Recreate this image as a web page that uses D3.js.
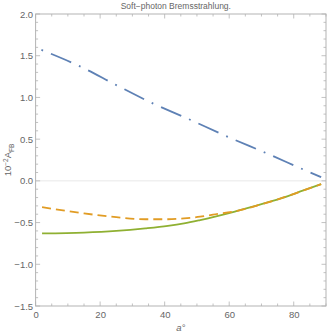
<!DOCTYPE html>
<html>
<head>
<meta charset="utf-8">
<script src="https://cdn.jsdelivr.net/npm/d3@7"></script>
<style>
  body { margin: 0; background: #fff; }
  text { font-family: "Liberation Sans", Arial, sans-serif; fill: #666; }
</style>
</head>
<body>
<svg id="chart" width="328" height="334"></svg>
<script>
// values
const blueAngles = [1.8, 13.6, 25, 36.6, 46, 59.8, 71.8, 83.7, 88.5];
const blueValues = [1.57, 1.375, 1.148, 0.923, 0.765, 0.524, 0.327, 0.124, 0.044];

const curveAngles = [2, 15, 25, 34, 41, 46, 51, 55, 62.5, 70, 76, 83, 88.5];
const orangeValues = [-0.315, -0.39, -0.435, -0.46, -0.46, -0.45, -0.43, -0.405, -0.36, -0.28, -0.21, -0.115, -0.04];
const greenValues = [-0.63, -0.62, -0.60, -0.57, -0.54, -0.51, -0.47, -0.435, -0.36, -0.28, -0.21, -0.115, -0.04];

const xTickValues = [0, 20, 40, 60, 80];
const yTickValues = [-1.5, -1.0, -0.5, 0.0, 0.5, 1.0, 1.5, 2.0];

const margin = { top: 14, right: 2, bottom: 28, left: 35.6 },
      width = 328 - margin.left - margin.right,
      height = 334 - margin.top - margin.bottom;

const svg = d3.select("#chart");
const chart = svg.append("g")
  .attr("transform", "translate(" + margin.left + "," + margin.top + ")");

const x = d3.scaleLinear().domain([0, 90]).range([0, width]);
const y = d3.scaleLinear().domain([-1.5, 2.0]).range([height, 0]);

const fmt = d => (d < 0 ? "\u2212" : "") + Math.abs(d).toFixed(1);

// zero line
chart.append("line")
  .attr("x1", 0).attr("x2", width)
  .attr("y1", y(0)).attr("y2", y(0))
  .attr("stroke", "#e8e8e8").attr("stroke-width", 1);

// frame ticks, pointing inward
const minorX = d3.range(0, 91, 5);
const minorY = d3.range(-15, 21, 1).map(d => d / 10);
const frameColor = "#b3b3b3";

const ticks = chart.append("g").attr("stroke", frameColor).attr("stroke-width", 0.8);
minorX.forEach(v => {
  const len = v % 20 === 0 ? 4.5 : 2.5;
  ticks.append("line").attr("x1", x(v)).attr("x2", x(v)).attr("y1", height).attr("y2", height - len);
  ticks.append("line").attr("x1", x(v)).attr("x2", x(v)).attr("y1", 0).attr("y2", len);
});
minorY.forEach(v => {
  const major = Math.abs(Math.round(v * 10) % 5) === 0;
  const len = major ? 4.5 : 2.5;
  ticks.append("line").attr("x1", 0).attr("x2", len).attr("y1", y(v)).attr("y2", y(v));
  ticks.append("line").attr("x1", width).attr("x2", width - len).attr("y1", y(v)).attr("y2", y(v));
});

chart.append("rect")
  .attr("width", width).attr("height", height)
  .attr("fill", "none").attr("stroke", frameColor).attr("stroke-width", 1);

// tick labels via axes
const xAxis = d3.axisBottom(x).tickValues(xTickValues).tickSize(0).tickPadding(5).tickFormat(d => d);
const yAxis = d3.axisLeft(y).tickValues(yTickValues).tickSize(0).tickPadding(2.5).tickFormat(fmt);

chart.append("g").attr("transform", "translate(0," + height + ")").call(xAxis)
  .call(g => g.select(".domain").remove())
  .selectAll("text").attr("font-size", 9.5).attr("fill", "#666").attr("font-family", "Liberation Sans, Arial, sans-serif");
chart.append("g").call(yAxis)
  .call(g => g.select(".domain").remove())
  .selectAll("text").attr("font-size", 9.5).attr("fill", "#666").attr("font-family", "Liberation Sans, Arial, sans-serif");

// curves
const line = d3.line().x(d => x(d[0])).y(d => y(d[1])).curve(d3.curveMonotoneX);

chart.append("path")
  .datum(d3.zip(curveAngles, greenValues))
  .attr("d", line).attr("fill", "none")
  .attr("stroke", "#8fb032").attr("stroke-width", 1.8);

chart.append("path")
  .datum(d3.zip(curveAngles, orangeValues))
  .attr("d", line).attr("fill", "none")
  .attr("stroke", "#e19c24").attr("stroke-width", 1.8)
  .attr("stroke-dasharray", "9,5");

chart.append("path")
  .datum(d3.zip(blueAngles, blueValues))
  .attr("d", line).attr("fill", "none")
  .attr("stroke", "#5e81b5").attr("stroke-width", 1.8)
  .attr("stroke-dasharray", "1.8,8.5,22,8.5");

// titles
svg.append("text")
  .attr("x", margin.left + width / 2 - 5).attr("y", 9)
  .attr("text-anchor", "middle").attr("font-size", 8.5)
  .text("Soft\u2212photon Bremsstrahlung.");

svg.append("text")
  .attr("x", margin.left + width / 2).attr("y", 331)
  .attr("text-anchor", "middle").attr("font-size", 9.5)
  .attr("font-style", "italic")
  .text("a\u00b0");

const yl = svg.append("text")
  .attr("transform", "translate(11," + (margin.top + height / 2) + ") rotate(-90)")
  .attr("text-anchor", "middle").attr("font-size", 9.5);
yl.append("tspan").text("10");
yl.append("tspan").attr("dy", -3.5).attr("font-size", 6.5).text("\u22122");
yl.append("tspan").attr("dy", 3.5).text("A");
yl.append("tspan").attr("dy", 2.5).attr("font-size", 6.5).text("FB");
</script>
</body>
</html>
